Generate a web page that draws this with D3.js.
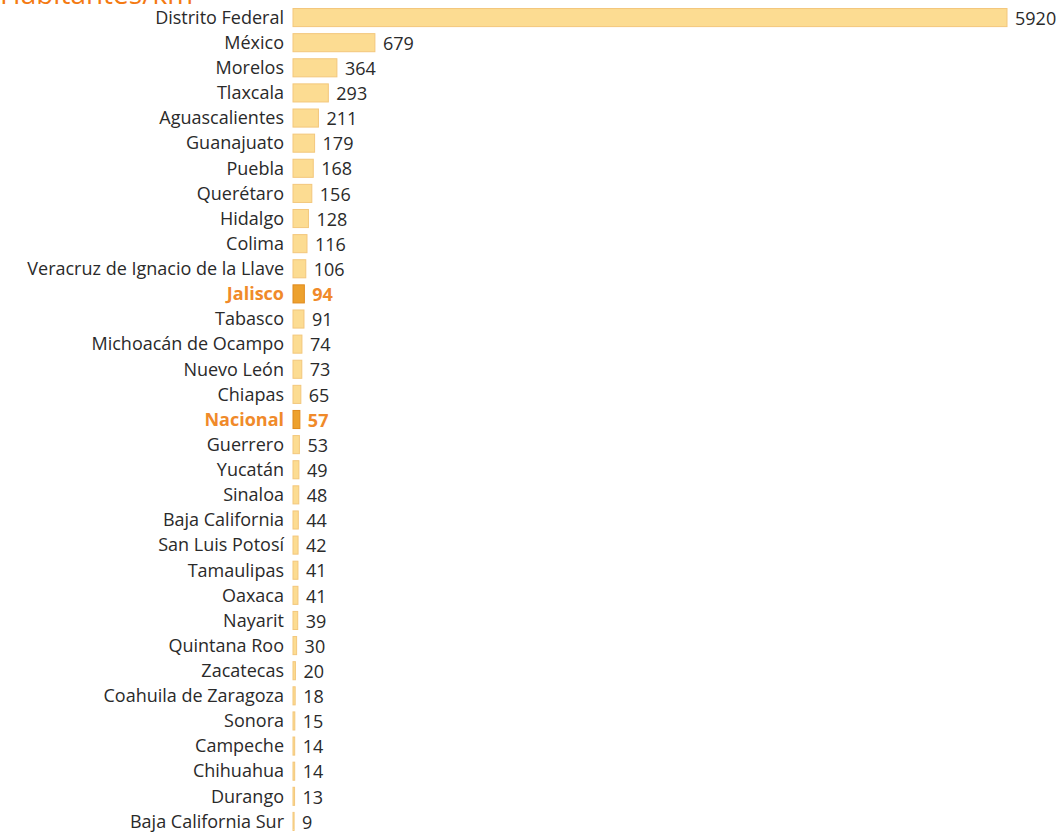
<!DOCTYPE html>
<html>
<head>
<meta charset="utf-8">
<style>
  body { margin: 0; background: #fff; }
  text { font-family: "Open Sans", sans-serif; }
</style>
</head>
<body>
<script src="https://d3js.org/d3.v7.min.js"></script>
<div id="chart"></div>
<script>
const estados = ["Distrito Federal", "México", "Morelos", "Tlaxcala", "Aguascalientes", "Guanajuato",
  "Puebla", "Querétaro", "Hidalgo", "Colima", "Veracruz de Ignacio de la Llave", "Jalisco", "Tabasco",
  "Michoacán de Ocampo", "Nuevo León", "Chiapas", "Nacional", "Guerrero", "Yucatán", "Sinaloa",
  "Baja California", "San Luis Potosí", "Tamaulipas", "Oaxaca", "Nayarit", "Quintana Roo", "Zacatecas",
  "Coahuila de Zaragoza", "Sonora", "Campeche", "Chihuahua", "Durango", "Baja California Sur"]
const densidad = [5920, 679, 364, 293, 211, 179, 168, 156, 128, 116, 106, 94, 91, 74, 73, 65, 57, 53,
  49, 48, 44, 42, 41, 41, 39, 30, 20, 18, 15, 14, 14, 13, 9]
const destacados = ["Jalisco", "Nacional"]

const width = 1061
const height = 836

const svg = d3.select("#chart").append("svg")
  .attr("width", width)
  .attr("height", height)

const x = d3.scaleLinear().domain([0, 5920]).range([293, 1007])
const y = d3.scaleBand().domain(estados).range([5, 834]).paddingInner(0.28).paddingOuter(0.14)

const data = estados.map((e, i) => ({ estado: e, valor: densidad[i] }))
const isHi = d => destacados.includes(d.estado)

// titulo, recortado arriba como en la imagen original
svg.append("text")
  .attr("x", 0)
  .attr("y", 4)
  .attr("fill", "#f47a12")
  .attr("font-size", 28)
  .text("Habitantes/km²")

const rows = svg.selectAll("g.row")
  .data(data)
  .enter()
  .append("g")
  .attr("class", "row")

rows.append("rect")
  .attr("x", x(0))
  .attr("y", d => y(d.estado))
  .attr("width", d => Math.max(1, x(d.valor) - x(0)))
  .attr("height", y.bandwidth())
  .attr("fill", d => isHi(d) ? "#eda12e" : "#fcdc92")
  .attr("stroke", d => isHi(d) ? "#e08a1c" : "#f3c77c")
  .attr("stroke-width", 1)

rows.append("text")
  .attr("x", 284)
  .attr("y", d => y(d.estado) + y.bandwidth() / 2)
  .attr("dy", "0.35em")
  .attr("text-anchor", "end")
  .attr("font-size", 18)
  .attr("font-weight", d => isHi(d) ? "bold" : 500)
  .attr("fill", d => isHi(d) ? "#f08a2a" : "#2a2a2a")
  .text(d => d.estado)

rows.append("text")
  .attr("x", d => x(d.valor) + 8)
  .attr("y", d => y(d.estado) + y.bandwidth() / 2)
  .attr("dy", "0.4em")
  .attr("font-size", 18)
  .attr("font-weight", d => isHi(d) ? "bold" : 500)
  .attr("fill", d => isHi(d) ? "#f08a2a" : "#2a2a2a")
  .text(d => d.valor)
</script>
</body>
</html>
